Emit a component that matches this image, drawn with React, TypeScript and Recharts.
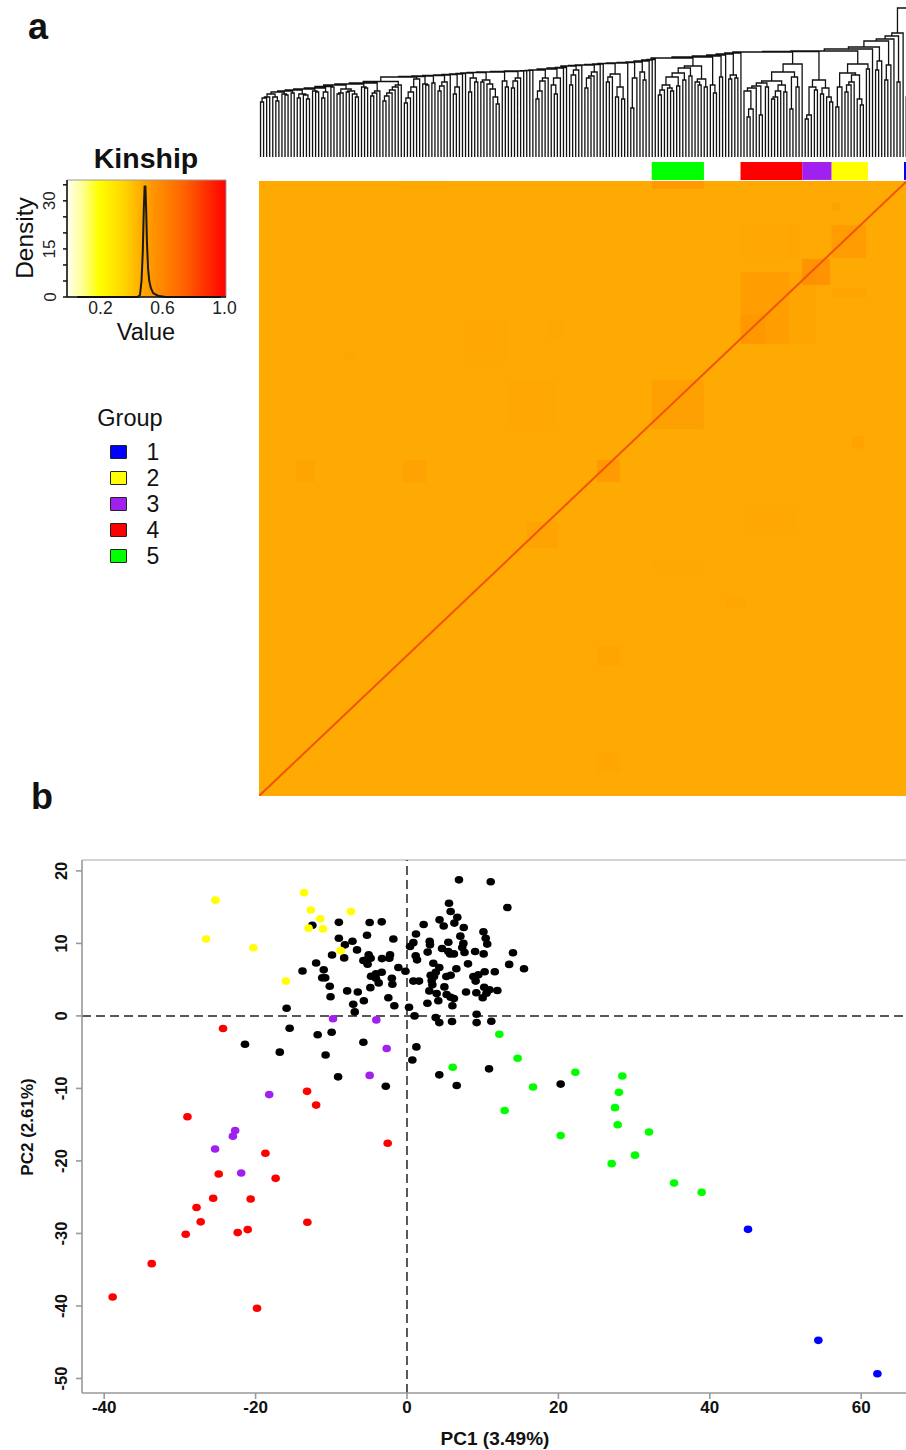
import {
  ComposedChart,
  Line,
  LineChart,
  ReferenceArea,
  ReferenceLine,
  Scatter,
  ScatterChart,
  XAxis,
  YAxis,
} from 'recharts';

const FONT = '"Liberation Sans", Arial, sans-serif';

// --- groups ---
const groupNames = ['1', '2', '3', '4', '5'];
const groupColors = ['#0000ff', '#ffff00', '#a020f0', '#ff0000', '#00ff00'];
// [group index, first individual, last individual] on the heatmap's x scale
const groupBands = [
  [4, 133.1, 150.8],
  [3, 163.2, 184.1],
  [2, 184.1, 194.1],
  [1, 194.1, 206.4],
  [0, 218.6, 222],
];

// --- density panel ---
const densityX = [0.05, 0.44, 0.455, 0.465, 0.473, 0.48, 0.485, 0.49, 0.495, 0.5, 0.507, 0.515, 0.525, 0.54, 0.57, 0.62, 0.98];
const densityY = [0, 0, 0.6, 5, 14, 28, 34.5, 34.5, 27, 17, 9, 5, 2.8, 1.2, 0.4, 0, 0];
const densityYTicks = [0, 5, 10, 15, 20, 25, 30, 35];
const densityYLabels = [0, 15, 30];
const densityXTicks = [0.2, 0.6, 1.0];

// --- kinship heatmap, brighter patches: x1, x2, y1, y2, strength ---
const heatPatches = [
  [163.2, 189, 161.4, 187.1, 0.06],
  [163.2, 179.5, 161.4, 187.1, 0.1],
  [163.2, 171.5, 161.4, 172, 0.06],
  [184.1, 193.6, 182.5, 191.8, 0.28],
  [194.1, 205.8, 192.1, 203.9, 0.17],
  [133.1, 150.8, 131, 148.6, 0.13],
  [114.6, 122.4, 112.1, 120, 0.2],
  [90.8, 101.4, 88.6, 97.9, 0.08],
  [12.5, 19, 112, 120, 0.06],
  [48.8, 56.6, 112, 120, 0.09],
  [133.1, 150.8, 216.8, 219.6, 0.2],
  [114.6, 122.4, 46.4, 53.6, 0.06],
  [114.6, 122.4, 8.6, 15.7, 0.05],
  [179.7, 183, 192.1, 204.3, 0.05],
  [194, 206, 177.9, 181.4, 0.06],
  [84, 101, 131, 148.6, 0.025],
  [163, 180, 192, 204, 0.025],
  [70, 84, 155, 170, 0.02],
  [164, 182, 94, 103, 0.03],
  [158, 165, 67, 71, 0.05],
  [201, 205, 124, 128.5, 0.09],
  [29, 33.5, 156, 158.5, 0.05],
  [98, 103, 163, 170, 0.04],
  [49, 63, 216.5, 219.6, 0.03],
  [194, 197, 209, 212, 0.08],
  [133, 151, 81, 84, 0.03],
];
const heatDiagonal = [0, 219.6];

// --- dendrogram: a leaf is 0, a merge is [height, left, right] ---
type Tree = 0 | [number, Tree, Tree];

const green: Tree = [91, [89, [84, [80, [72, [67, [62, 0, 0], 0], [69, 0, [66, 0, 0]]], [71, 0, 0]], [77, 0, 0]], [81, 0, 0]], [78, [75, 0, [72, 0, 0]], [70, 0, 0]]];
const red: Tree = [93, [85, [76, [74, [71, [69, [66, 0, [48, [40, 0, 0], 0]], 0], [42, 0, 0]], [70, 0, 0]], [72, [66, [60, [58, 0, 0], 0], 0], [65, 0, 0]]], [80, [48, 0, 0], [70, 0, 0]]], 0];
const purple: Tree = [77, [70, [42, [38, 0, 0], 0], [67, 0, 0]], [69, [63, 0, 0], [60, 0, [55, 0, 0]]]];
const yellow: Tree = [93, [84, [70, [50, 0, 0], 0], [82, [75, [72, [65, 0, 0], 0], 0], [58, 0, [52, 0, 0]]]], [88, 0, 0]];
const blue: Tree = [60, 0, [50, 0, 0]];

// left-to-right ladder: each subtree joins everything before it at the given height
const dendroLadder: [number, Tree][] = [
  [0, [63, [60, [59, [55, 0, 0], 0], 0], [60, 0, [56, 0, 0]]]],
  [65, [63, 0, [62, 0, 0]]],
  [66, [64, 0, 0]],
  [67, [63, [59, 0, 0], [62, 0, [58, 0, 0]]]],
  [68, [66, 0, [65, 0, 0]]],
  [69, [65, [59, 0, 0], 0]],
  [70.5, [70, 0, 0]],
  [72, [68, [64, [63, 0, 0], 0], [66, [65, 0, 0], [63, 0, [60, 0, 0]]]]],
  [73, [70, 0, [69, 0, 0]]],
  [74, [66, [64, [61, 0, 0], 0], 0]],
  [75.5, [72, [70, [67, [64, [61, [56, 0, 0], 0], 0], 0], 0], 0]],
  [80, [78, [70, [65, [59, [54, 0, 0], 0], 0], 0], 0]],
  [80.5, [73, 0, [72, 0, 0]]],
  [81, [74, 0, 0]],
  [81.5, [75, [71, [66, 0, 0], 0], 0]],
  [82, 0],
  [82.5, [70, [63, 0, 0], 0]],
  [83, 0],
  [83.5, 0],
  [84, [79, [65, 0, 0], [75, 0, 0]]],
  [84.5, [77, [75, 0, 0], [73, 0, [68, 0, [60, 0, [53, 0, 0]]]]]],
  [85, [76, 0, [70, 0, 0]]],
  [85.5, [79, [76, [69, 0, 0], 0], 0]],
  [86, 0],
  [86.2, 0],
  [86.4, 0],
  [86.6, 0],
  [87, [79, [76, [66, [58, 0, 0], 0], 0], 0]],
  [88, [79, [72, 0, [63, 0, 0]], 0]],
  [89, 0],
  [89.5, 0],
  [91, [87, [82, [72, 0, 0], 0], 0]],
  [91.5, 0],
  [92, [85, [81, [79, [69, 0, 0], 0], 0], 0]],
  [92.5, 0],
  [93, 0],
  [93.5, [83, [80, [75, 0, 0], 0], [70, [60, 0, 0], [58, 0, 0]]]],
  [94, 0],
  [94.5, [79, [49, 0, 0], 0]],
  [95, [85, 0, [77, 0, 0]]],
  [96, 0],
  [97, 0],
  [97.5, 0],
  [99, green],
  [100, [72, 0, [64, 0, 0]]],
  [101, [80, 0, 0]],
  [102, 0],
  [103, [82, [78, 0, 0], [79, 0, 0]]],
  [104, 0],
  [105, red],
  [105.5, purple],
  [106, yellow],
  [108, 0],
  [110, [96, [87, 0, 0], 0]],
  [116, [92, [77, 0, 0], 0]],
  [118, 0],
  [121, [75, 0, 0]],
  [124, 0],
  [149, blue],
];

// --- PCA points, [PC1, PC2] ---
const blackPoints = [
  [-12.5, 12.5], [-9, 12.9], [-9, 10.7], [-7.2, 10.3], [-8.2, 9.8], [-6.6, 9.1], [-9.9, 8.4], [-8.3, 8], [-12, 7.3], [-11, 6.35],
  [-13.8, 6.2], [-11.2, 5.25], [-10.8, 5.25], [-10.2, 4.1], [-7.9, 3.45], [-6.5, 3.3], [-10.1, 2.65], [-7.1, 1.6], [-6.9, 0.55], [-15.9, 1.06],
  [-15.5, -1.7], [-11.8, -2.6], [-9.95, -2.25], [-21.4, -3.9], [-16.8, -5], [-10.75, -5.4], [-9.1, -8.4],
  [-4.93, 12.88], [-3.34, 12.97], [-5.28, 11.13], [-1.8, 10.6], [-5.06, 8.42], [-5.1, 7.96], [-5.76, 7.64], [-4.8, 7.96], [-5.2, 7.13],
  [-3.3, 7.9], [-2.24, 8.42], [-2.33, 7.96], [-1.14, 6.67], [-0.2, 6.16], [-3.34, 6.03], [-4.1, 5.8], [-4.75, 5.47], [-4.1, 5.2], [-3.74, 4.55],
  [-2, 5.2], [-1.93, 4.37], [-4.84, 3.9], [-5.7, 2.1], [-2.46, 2.5], [-1.67, 1.4], [0.27, 1.2], [1, 0], [0.4, 9.57], [0.84, 10.1],
  [1.19, 11.3], [2.2, 12.6], [4.3, 13.25], [4.85, 12.4], [5.55, 15.54], [5.77, 14.4], [6.65, 13.6], [6.26, 12.8], [6.87, 18.76], [11.06, 18.5],
  [13.26, 14.95], [7.5, 12.2], [7.05, 11], [10.1, 11.6], [10.4, 10.7], [10.6, 9.9], [3, 10.3], [3.04, 9.8], [2.73, 8.8], [5.46, 10.16],
  [4.63, 9.3], [5.46, 8.88], [5.7, 8.55], [6.2, 8.55], [7.45, 10], [7.3, 9.43], [7.6, 8.74], [9, 8.88], [10.13, 8.55], [14, 8.7],
  [13.5, 7.1], [15.46, 6.5], [1.15, 8.28], [1.33, 7.73], [3.48, 7.27], [4.27, 6.67], [6.52, 6.5], [8.06, 7.18], [3.8, 6.03], [3.13, 5.6],
  [3.57, 5.43], [5.2, 5.43], [5.77, 5.6], [10.26, 6.1], [11.6, 6.1], [8.77, 5.43], [9.43, 5.66], [9.07, 4.8], [0.84, 4.8], [1.59, 4.8],
  [3.26, 4.88], [3.35, 4.3], [4.94, 4], [2.95, 3.45], [3.92, 3.08], [5.24, 2.95], [5.77, 2.58], [6.2, 2.4], [4.14, 2.1], [2.7, 1.75],
  [6, 1.4], [7.8, 3.3], [9.16, 3.2], [10.2, 3.96], [10.9, 3.6], [11.94, 3.5], [10.5, 3.13], [10, 2.5], [9.2, 0.23], [3.79, -0.23],
  [4.27, -0.92], [5.95, -0.78], [9.2, -0.92], [11.14, -0.73], [1.24, -4.27], [0.71, -6.07], [4.27, -8.13], [10.84, -7.3], [6.57, -9.6], [20.3, -9.4],
  [-2.8, -9.7], [-5.76, -3.63],
];
const yellowPoints = [
  [-25.3, 15.96], [-26.55, 10.6], [-20.3, 9.4], [-16, 4.8], [-13.6, 17], [-12.7, 14.6], [-11.45, 13.4], [-13, 12.1], [-11.1, 12], [-7.4, 14.4], [-8.76, 9],
];
const purplePoints = [
  [-9.77, -0.4], [-4.05, -0.55], [-2.68, -4.5], [-4.93, -8.2], [-18.2, -10.85], [-22.7, -15.8], [-23, -16.6], [-25.35, -18.35], [-21.9, -21.66],
];
const redPoints = [
  [-24.3, -1.74], [-13.2, -10.4], [-12, -12.3], [-29, -13.9], [-2.55, -17.56], [-18.7, -18.94], [-24.87, -21.8], [-17.35, -22.4], [-25.6, -25.15],
  [-20.65, -25.24], [-27.8, -26.43], [-27.25, -28.4], [-13.16, -28.46], [-21.04, -29.47], [-22.36, -29.88], [-29.23, -30.1], [-33.72, -34.16], [-38.88, -38.76], [-19.81, -40.32],
];
const greenPoints = [
  [12.2, -2.53], [14.62, -5.84], [6.04, -7.08], [22.24, -7.77], [16.65, -9.8], [12.9, -13.05], [20.3, -16.5], [28.45, -8.28], [28, -10.54],
  [27.48, -12.65], [27.83, -15], [31.97, -16], [30.12, -19.2], [27.04, -20.37], [35.28, -23.04], [38.93, -24.33],
];
const bluePoints = [[45.05, -29.43], [54.34, -44.74], [62.14, -49.34]];
const pcaXTicks = [-40, -20, 0, 20, 40, 60];
const pcaYTicks = [-50, -40, -30, -20, -10, 0, 10, 20];

// turn the ladder into one line with gaps between the brackets
function layoutDendrogram(ladder: [number, Tree][]) {
  const rows: { x: number; h: number | null }[] = [];
  let next = 0;
  const place = (node: Tree): { x: number; h: number } => {
    if (node === 0) return { x: next++, h: 0 };
    return join(node[0], place(node[1]), place(node[2]));
  };
  const join = (h: number, a: { x: number; h: number }, b: { x: number; h: number }) => {
    rows.push({ x: a.x, h: a.h }, { x: a.x, h }, { x: b.x, h }, { x: b.x, h: b.h }, { x: b.x, h: null });
    return { x: (a.x + b.x) / 2, h };
  };
  let acc = place(ladder[0][1]);
  ladder.slice(1).forEach(([h, sub]) => {
    acc = join(h, acc, place(sub));
  });
  return { rows, leaves: next };
}

const dendro = layoutDendrogram(dendroLadder);
const LEAF_PITCH = 3.06;

const densityData = densityX.map((x, i) => ({ x, y: densityY[i] }));
const diagonalData = heatDiagonal.map((v) => ({ x: v, y: v }));
const toXY = (list: number[][]) => list.map(([x, y]) => ({ x, y }));

const pcaSeries = [
  { name: 'none', color: '#000000', points: blackPoints },
  { name: '2', color: groupColors[1], points: yellowPoints },
  { name: '3', color: groupColors[2], points: purplePoints },
  { name: '4', color: groupColors[3], points: redPoints },
  { name: '5', color: groupColors[4], points: greenPoints },
  { name: '1', color: groupColors[0], points: bluePoints },
];

function Caption({ x, y, size, bold, rotate, children }: any) {
  return (
    <div
      style={{
        position: 'absolute',
        left: x,
        top: y,
        fontFamily: FONT,
        fontSize: size,
        fontWeight: bold ? 700 : 400,
        color: '#111',
        lineHeight: 1,
        whiteSpace: 'nowrap',
        transform: `translate(-50%, -50%)${rotate ? ` rotate(${rotate}deg)` : ''}`,
      }}
    >
      {children}
    </div>
  );
}

const Dot = (p: any) => <ellipse cx={p.cx} cy={p.cy} rx={4.3} ry={3.8} fill={p.fill} />;

const PcaXTick = ({ x, payload }: any) => (
  <text x={x} y={567.5} textAnchor="middle" dominantBaseline="central" fontFamily={FONT} fontWeight={700} fontSize={17} fill="#111">
    {payload.value}
  </text>
);
const PcaYTick = ({ y, payload }: any) => (
  <text x={61} y={y} textAnchor="middle" dominantBaseline="central" transform={`rotate(-90 61 ${y})`} fontFamily={FONT} fontWeight={700} fontSize={16.5} fill="#111">
    {payload.value}
  </text>
);
const DensityXTick = ({ x, payload }: any) => (
  <text x={x} y={138} textAnchor="middle" dominantBaseline="central" fontFamily={FONT} fontSize={17.5} fill="#222">
    {payload.value.toFixed(1)}
  </text>
);
const DensityYTick = ({ y, payload }: any) =>
  densityYLabels.includes(payload.value) ? (
    <text x={50} y={y} textAnchor="middle" dominantBaseline="central" transform={`rotate(-90 50 ${y})`} fontFamily={FONT} fontSize={17} fill="#222">
      {payload.value}
    </text>
  ) : (
    <g />
  );

export default function App() {
  return (
    <div style={{ position: 'absolute', left: 0, top: 0, width: 906, height: 1450, overflow: 'hidden', background: '#fff' }}>
      <Caption x={38} y={27} size={36} bold>a</Caption>
      <Caption x={42} y={797} size={36} bold>b</Caption>

      {/* density key */}
      <Caption x={146} y={158} size={28.5} bold>Kinship</Caption>
      <Caption x={25} y={238} size={24.5} rotate={-90}>Density</Caption>
      <Caption x={146} y={333} size={23.5}>Value</Caption>
      <div style={{ position: 'absolute', left: 0, top: 170 }}>
        <LineChart width={266} height={152} data={densityData} margin={{ top: 10, right: 40, bottom: 0, left: 0 }}>
          <defs>
            <linearGradient id="kinshipKey" x1="0" y1="0" x2="1" y2="0">
              <stop offset="0" stopColor="#fffff2" />
              <stop offset="0.1" stopColor="#ffff90" />
              <stop offset="0.2" stopColor="#ffff00" />
              <stop offset="0.35" stopColor="#ffd800" />
              <stop offset="0.5" stopColor="#ffa000" />
              <stop offset="0.75" stopColor="#ff5f00" />
              <stop offset="1" stopColor="#ff0000" />
            </linearGradient>
          </defs>
          <XAxis dataKey="x" type="number" domain={[-0.016, 1.01]} ticks={densityXTicks} tick={DensityXTick} tickLine={false} stroke="#111" strokeWidth={1.5} height={25} interval={0} />
          <YAxis type="number" domain={[0, 36.5]} ticks={densityYTicks} tick={DensityYTick} stroke="#111" strokeWidth={1.5} tickSize={4} width={67} interval={0} />
          <ReferenceArea x1={-0.016} x2={1.01} y1={0} y2={36.5} fill="url(#kinshipKey)" fillOpacity={1} stroke="#9a9a9a" strokeWidth={1} />
          <Line dataKey="y" stroke="#1a1a1a" strokeWidth={2} dot={false} isAnimationActive={false} />
        </LineChart>
      </div>

      {/* group legend */}
      <Caption x={130} y={419} size={23.5}>Group</Caption>
      {groupNames.map((name, i) => (
        <div key={name}>
          <div
            style={{
              position: 'absolute',
              left: 110,
              top: 445 + i * 26,
              width: 15,
              height: 12,
              background: groupColors[i],
              border: '1.5px solid #222',
              borderRadius: 1,
            }}
          />
          <Caption x={153} y={452 + i * 26} size={23}>{name}</Caption>
        </div>
      ))}

      {/* dendrogram */}
      <div style={{ position: 'absolute', left: 259, top: 0 }}>
        <LineChart
          width={dendro.leaves * LEAF_PITCH}
          height={157}
          data={dendro.rows}
          margin={{ top: 0, right: 0, bottom: 0, left: 0 }}
        >
          <XAxis dataKey="x" type="number" domain={[-0.5, dendro.leaves - 0.5]} hide />
          <YAxis type="number" domain={[0, 157]} hide />
          <Line dataKey="h" stroke="#111" strokeWidth={1.3} dot={false} connectNulls={false} isAnimationActive={false} />
        </LineChart>
      </div>

      {/* group strip and heatmap */}
      <div style={{ position: 'absolute', left: 259, top: 162 }}>
        <ComposedChart width={650} height={634} data={diagonalData} margin={{ top: 0, right: 0, bottom: 0, left: 0 }}>
          <XAxis dataKey="x" type="number" domain={[0, 220.3]} hide />
          <YAxis type="number" domain={[0, 226.4]} hide />
          <ReferenceArea x1={0} x2={220.3} y1={0} y2={219.6} fill="#ffaa03" fillOpacity={1} stroke="none" />
          {heatPatches.map(([x1, x2, y1, y2, level], i) => (
            <ReferenceArea key={i} x1={x1} x2={x2} y1={y1} y2={y2} fill="#ff5a00" fillOpacity={level} stroke="none" />
          ))}
          {groupBands.map(([group, x1, x2]) => (
            <ReferenceArea key={group} x1={x1} x2={Math.min(x2, 220.3)} y1={220} y2={226.4} fill={groupColors[group]} fillOpacity={1} stroke="none" />
          ))}
          <Line dataKey="y" stroke="#f0540a" strokeWidth={2} dot={false} isAnimationActive={false} />
        </ComposedChart>
      </div>

      {/* PCA */}
      <Caption x={495} y={1438} size={19} bold>PC1 (3.49%)</Caption>
      <Caption x={27} y={1127} size={17} bold rotate={-90}>PC2 (2.61%)</Caption>
      <div style={{ position: 'absolute', left: 0, top: 840 }}>
        <ScatterChart width={935} height={610} margin={{ top: 20, right: 0, bottom: 17, left: 0 }}>
          <XAxis dataKey="x" type="number" domain={[-42.93, 69.75]} ticks={pcaXTicks} tick={PcaXTick} stroke="#999" strokeWidth={1.6} tickSize={6} height={40} interval={0} />
          <YAxis dataKey="y" type="number" domain={[-52, 21.5]} ticks={pcaYTicks} tick={PcaYTick} stroke="#999" strokeWidth={1.6} tickSize={6} width={82} interval={0} />
          <ReferenceLine y={21.5} stroke="#aaa" strokeWidth={1.2} />
          <ReferenceLine y={0} stroke="#222" strokeWidth={1.5} strokeDasharray="9 5" />
          <ReferenceLine x={0} stroke="#222" strokeWidth={1.5} strokeDasharray="9 5" />
          {pcaSeries.map((s) => (
            <Scatter key={s.name} name={s.name} data={toXY(s.points)} fill={s.color} shape={Dot} isAnimationActive={false} />
          ))}
        </ScatterChart>
      </div>
    </div>
  );
}
